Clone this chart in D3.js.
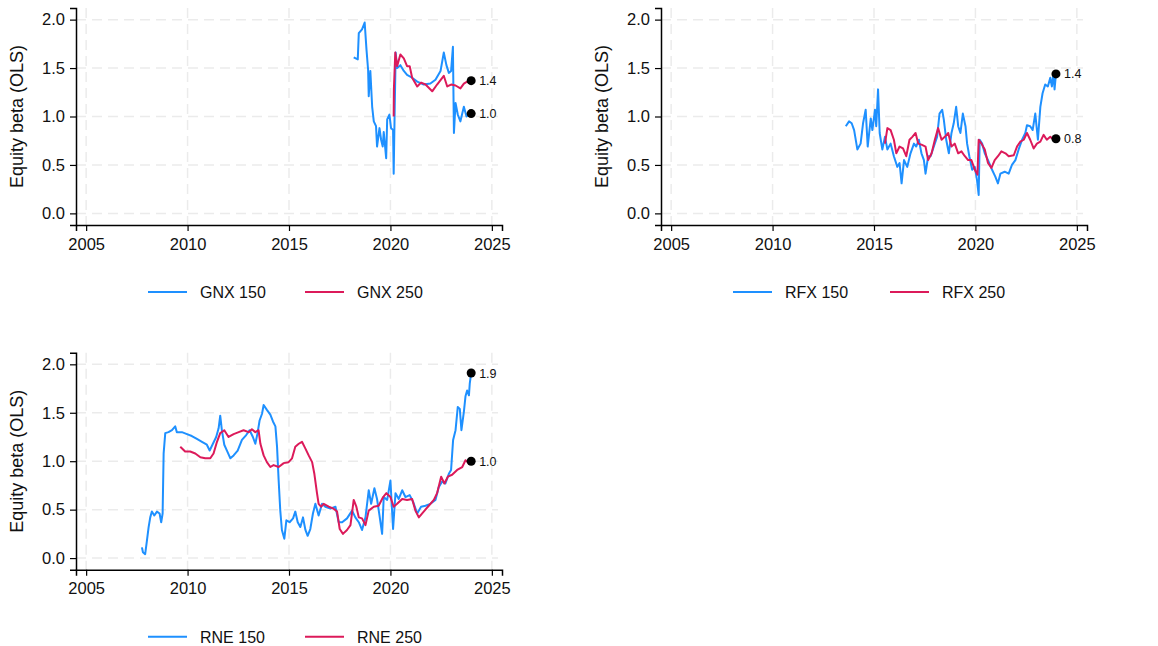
<!DOCTYPE html>
<html>
<head>
<meta charset="utf-8">
<script src="https://cdn.jsdelivr.net/npm/d3@7"></script>
<style>
  body { margin: 0; background: #fff; }
  svg { font-family: "Liberation Sans", Arial, sans-serif; }
</style>
</head>
<body>
<svg id="chart" width="1158" height="646"></svg>
<script>
// values: [year, beta]
const gnx150 = [[2018.19,1.61],[2018.39,1.59],[2018.44,1.86],[2018.6,1.9],[2018.73,1.97],[2018.82,1.69],[2018.9,1.48],[2018.93,1.21],[2019.01,1.47],[2019.1,1.1],[2019.18,0.95],[2019.29,0.9],[2019.34,0.69],[2019.46,0.88],[2019.54,0.76],[2019.62,0.69],[2019.67,0.84],[2019.79,0.57],[2019.84,0.97],[2019.95,1.02],[2020.03,0.88],[2020.13,0.86],[2020.16,0.41],[2020.21,1.07],[2020.26,1.66],[2020.33,1.5],[2020.49,1.53],[2020.66,1.47],[2020.82,1.43],[2021.07,1.4],[2021.32,1.36],[2021.64,1.33],[2021.97,1.34],[2022.22,1.38],[2022.47,1.47],[2022.63,1.66],[2022.76,1.53],[2022.88,1.45],[2022.99,1.47],[2023.08,1.72],[2023.13,0.83],[2023.21,1.14],[2023.32,1.02],[2023.45,0.95],[2023.62,1.1],[2023.75,1.0],[2023.98,1.03]];
const gnx250 = [[2020.16,1.0],[2020.17,1.28],[2020.24,1.66],[2020.33,1.52],[2020.49,1.64],[2020.66,1.6],[2020.82,1.52],[2020.95,1.52],[2021.07,1.4],[2021.32,1.31],[2021.51,1.35],[2021.73,1.33],[2022.06,1.26],[2022.3,1.33],[2022.63,1.42],[2022.8,1.31],[2022.99,1.33],[2023.21,1.32],[2023.45,1.29],[2023.62,1.34],[2023.78,1.36],[2023.98,1.37]];
const rfx150 = [[2013.61,0.9],[2013.77,0.95],[2013.9,0.93],[2014.02,0.86],[2014.18,0.66],[2014.34,0.72],[2014.46,0.93],[2014.59,1.07],[2014.69,0.69],[2014.84,0.98],[2014.92,0.86],[2015.05,1.07],[2015.11,0.9],[2015.2,1.28],[2015.28,0.83],[2015.41,0.66],[2015.54,0.79],[2015.66,0.66],[2015.82,0.72],[2015.98,0.59],[2016.15,0.48],[2016.26,0.52],[2016.36,0.31],[2016.48,0.55],[2016.64,0.48],[2016.8,0.62],[2016.97,0.72],[2017.08,0.69],[2017.21,0.76],[2017.34,0.62],[2017.46,0.55],[2017.54,0.41],[2017.67,0.59],[2017.79,0.59],[2017.95,0.69],[2018.11,0.79],[2018.23,1.03],[2018.36,1.07],[2018.44,0.97],[2018.56,0.76],[2018.69,0.62],[2018.82,0.83],[2018.93,0.93],[2019.05,1.1],[2019.15,0.9],[2019.26,0.83],[2019.38,1.03],[2019.51,0.9],[2019.59,0.72],[2019.7,0.59],[2019.84,0.45],[2019.97,0.48],[2020.08,0.34],[2020.16,0.19],[2020.21,0.76],[2020.33,0.72],[2020.46,0.62],[2020.62,0.55],[2020.82,0.45],[2020.98,0.38],[2021.11,0.31],[2021.23,0.41],[2021.44,0.43],[2021.64,0.41],[2021.8,0.5],[2021.97,0.55],[2022.13,0.66],[2022.3,0.76],[2022.46,0.83],[2022.54,0.91],[2022.7,0.9],[2022.82,0.86],[2022.95,1.03],[2023.08,0.76],[2023.2,1.1],[2023.31,1.24],[2023.44,1.33],[2023.57,1.31],[2023.69,1.4],[2023.77,1.31],[2023.85,1.45],[2023.9,1.28],[2023.97,1.44]];
const rfx250 = [[2015.54,0.72],[2015.66,0.88],[2015.82,0.86],[2015.98,0.76],[2016.1,0.62],[2016.26,0.69],[2016.43,0.67],[2016.59,0.59],[2016.75,0.76],[2016.89,0.79],[2017.05,0.83],[2017.18,0.72],[2017.34,0.71],[2017.54,0.69],[2017.67,0.55],[2017.84,0.62],[2018.0,0.76],[2018.16,0.88],[2018.33,0.76],[2018.49,0.79],[2018.66,0.83],[2018.82,0.69],[2018.98,0.72],[2019.15,0.62],[2019.31,0.64],[2019.48,0.59],[2019.64,0.55],[2019.8,0.55],[2019.97,0.45],[2020.1,0.4],[2020.16,0.76],[2020.3,0.72],[2020.46,0.66],[2020.62,0.52],[2020.79,0.47],[2020.95,0.55],[2021.11,0.59],[2021.28,0.64],[2021.48,0.62],[2021.64,0.59],[2021.89,0.6],[2022.05,0.69],[2022.21,0.74],[2022.38,0.76],[2022.54,0.83],[2022.7,0.76],[2022.87,0.67],[2023.03,0.72],[2023.2,0.74],[2023.36,0.81],[2023.52,0.76],[2023.69,0.79],[2023.85,0.76],[2023.97,0.77]];
const rne150 = [[2007.75,0.11],[2007.8,0.06],[2007.91,0.04],[2007.99,0.17],[2008.08,0.32],[2008.16,0.42],[2008.24,0.48],[2008.36,0.44],[2008.49,0.48],[2008.62,0.46],[2008.7,0.37],[2008.77,0.46],[2008.82,1.08],[2008.9,1.29],[2009.06,1.3],[2009.23,1.32],[2009.39,1.36],[2009.47,1.3],[2009.72,1.3],[2009.97,1.28],[2010.21,1.26],[2010.46,1.23],[2010.71,1.2],[2010.95,1.17],[2011.09,1.11],[2011.25,1.18],[2011.41,1.25],[2011.53,1.34],[2011.61,1.47],[2011.69,1.32],[2011.81,1.17],[2011.94,1.11],[2012.11,1.03],[2012.27,1.06],[2012.47,1.11],[2012.68,1.22],[2012.89,1.27],[2013.06,1.32],[2013.22,1.25],[2013.34,1.18],[2013.45,1.29],[2013.55,1.42],[2013.67,1.49],[2013.75,1.58],[2013.91,1.53],[2014.08,1.48],[2014.21,1.41],[2014.33,1.36],[2014.41,1.15],[2014.49,0.8],[2014.57,0.49],[2014.65,0.29],[2014.77,0.2],[2014.87,0.39],[2015.03,0.37],[2015.2,0.41],[2015.31,0.48],[2015.43,0.37],[2015.56,0.32],[2015.69,0.42],[2015.81,0.29],[2015.92,0.23],[2016.05,0.3],[2016.18,0.46],[2016.3,0.56],[2016.46,0.44],[2016.63,0.56],[2016.79,0.53],[2017.04,0.51],[2017.29,0.53],[2017.45,0.37],[2017.62,0.37],[2017.86,0.41],[2018.11,0.49],[2018.27,0.42],[2018.44,0.37],[2018.6,0.29],[2018.77,0.42],[2018.93,0.7],[2019.05,0.56],[2019.21,0.72],[2019.34,0.61],[2019.46,0.44],[2019.59,0.25],[2019.67,0.63],[2019.84,0.6],[2020.0,0.8],[2020.13,0.3],[2020.25,0.67],[2020.41,0.61],[2020.58,0.7],[2020.74,0.63],[2020.95,0.65],[2021.12,0.58],[2021.32,0.46],[2021.51,0.53],[2021.73,0.54],[2021.97,0.56],[2022.22,0.6],[2022.38,0.73],[2022.55,0.79],[2022.71,0.77],[2022.88,0.87],[2022.99,0.91],[2023.09,1.22],[2023.21,1.32],[2023.32,1.56],[2023.42,1.54],[2023.5,1.32],[2023.62,1.51],[2023.7,1.67],[2023.78,1.73],[2023.87,1.68],[2023.91,1.8],[2023.98,1.91]];
const rne250 = [[2009.64,1.15],[2009.88,1.1],[2010.13,1.1],[2010.38,1.08],[2010.63,1.04],[2010.87,1.03],[2011.12,1.03],[2011.28,1.08],[2011.45,1.2],[2011.61,1.29],[2011.81,1.32],[2012.02,1.25],[2012.27,1.28],[2012.52,1.3],[2012.76,1.32],[2013.01,1.3],[2013.17,1.33],[2013.34,1.3],[2013.5,1.32],[2013.59,1.18],[2013.75,1.06],[2013.91,0.99],[2014.08,0.94],[2014.24,0.96],[2014.49,0.94],[2014.74,0.98],[2014.98,0.99],[2015.15,1.03],[2015.31,1.15],[2015.48,1.18],[2015.64,1.2],[2015.81,1.13],[2015.97,1.06],[2016.14,0.99],[2016.25,0.87],[2016.38,0.67],[2016.46,0.56],[2016.58,0.53],[2016.71,0.56],[2016.96,0.53],[2017.2,0.51],[2017.37,0.48],[2017.5,0.3],[2017.66,0.25],[2017.86,0.29],[2018.03,0.34],[2018.19,0.6],[2018.32,0.53],[2018.44,0.42],[2018.6,0.41],[2018.77,0.34],[2018.93,0.49],[2019.18,0.53],[2019.42,0.54],[2019.64,0.63],[2019.8,0.67],[2020.0,0.63],[2020.16,0.53],[2020.33,0.56],[2020.58,0.61],[2020.82,0.6],[2021.07,0.61],[2021.23,0.49],[2021.4,0.42],[2021.64,0.48],[2021.89,0.54],[2022.14,0.6],[2022.3,0.67],[2022.5,0.84],[2022.66,0.77],[2022.83,0.84],[2023.04,0.86],[2023.29,0.91],[2023.54,0.94],[2023.7,1.01],[2023.87,0.98],[2023.98,1.0]];

const xTicks = [2005, 2010, 2015, 2020, 2025];
const yTicks = [0, 0.5, 1, 1.5, 2];
const colors = ["#1e90ff", "#dc1a5a"];

const panels = [
  { left: 76, top: 8, names: ["GNX 150", "GNX 250"], series: [gnx150, gnx250] },
  { left: 661, top: 8, names: ["RFX 150", "RFX 250"], series: [rfx150, rfx250] },
  { left: 76, top: 352.7, names: ["RNE 150", "RNE 250"], series: [rne150, rne250] }
];

const svg = d3.select("#chart");
const W = 426, H = 217;
const fmt = d3.format(".1f");

panels.forEach(p => {
  const g = svg.append("g").attr("transform", `translate(${p.left},${p.top})`);
  const x = d3.scaleLinear().domain([2004.5, 2025.5]).range([0, W]);
  const y = d3.scaleLinear().domain([-0.12, 2.12]).range([H, 0]);

  // grid
  g.selectAll(".gy").data(yTicks).join("line")
    .attr("x1", 0).attr("x2", W - 4)
    .attr("y1", d => y(d)).attr("y2", d => y(d))
    .attr("stroke", "#ebebeb").attr("stroke-width", 1.5).attr("stroke-dasharray", "10,6");
  g.selectAll(".gx").data(xTicks).join("line")
    .attr("x1", d => x(d)).attr("x2", d => x(d))
    .attr("y1", 0).attr("y2", H)
    .attr("stroke", "#ebebeb").attr("stroke-width", 1.5).attr("stroke-dasharray", "10,6");

  // axes
  const xa = g.append("g").attr("transform", `translate(0,${H})`)
    .call(d3.axisBottom(x).tickValues(xTicks).tickFormat(d3.format("d")).tickSizeOuter(0).tickSize(6).tickPadding(7));
  const ya = g.append("g")
    .call(d3.axisLeft(y).tickValues(yTicks).tickFormat(fmt).tickSizeOuter(0).tickSize(6).tickPadding(5));
  [xa, ya].forEach(a => {
    a.attr("font-size", 16.5).attr("font-family", "Liberation Sans, Arial, sans-serif");
    a.select(".domain").attr("stroke", "#000").attr("stroke-width", 1.5);
    a.selectAll(".tick line").attr("stroke", "#000").attr("stroke-width", 1.2);
    a.selectAll("text").attr("fill", "#111");
  });

  g.append("text")
    .attr("transform", `translate(-53,${H / 2}) rotate(-90)`)
    .attr("text-anchor", "middle").attr("font-size", 18).attr("fill", "#111")
    .text("Equity beta (OLS)");

  const line = d3.line().x(d => x(d[0])).y(d => y(d[1]));
  p.series.forEach((s, i) => {
    g.append("path").datum(s)
      .attr("fill", "none").attr("stroke", colors[i]).attr("stroke-width", 2)
      .attr("stroke-linejoin", "round").attr("d", line);
  });
  p.series.forEach(s => {
    const last = s[s.length - 1];
    g.append("circle").attr("cx", x(last[0])).attr("cy", y(last[1])).attr("r", 4.5).attr("fill", "#000");
    g.append("text").attr("x", x(last[0]) + 8).attr("y", y(last[1]) + 4.5)
      .attr("font-size", 12.5).attr("fill", "#111").text(fmt(last[1]));
  });

  // legend
  const lg = g.append("g").attr("transform", `translate(0,${H + 67})`);
  const lx = [72, 229];
  p.names.forEach((n, i) => {
    lg.append("line").attr("x1", lx[i]).attr("x2", lx[i] + 39).attr("y1", 0).attr("y2", 0)
      .attr("stroke", colors[i]).attr("stroke-width", 2);
    lg.append("text").attr("x", lx[i] + 52).attr("y", 6).attr("font-size", 16).attr("fill", "#111").text(n);
  });
});
</script>
</body>
</html>
